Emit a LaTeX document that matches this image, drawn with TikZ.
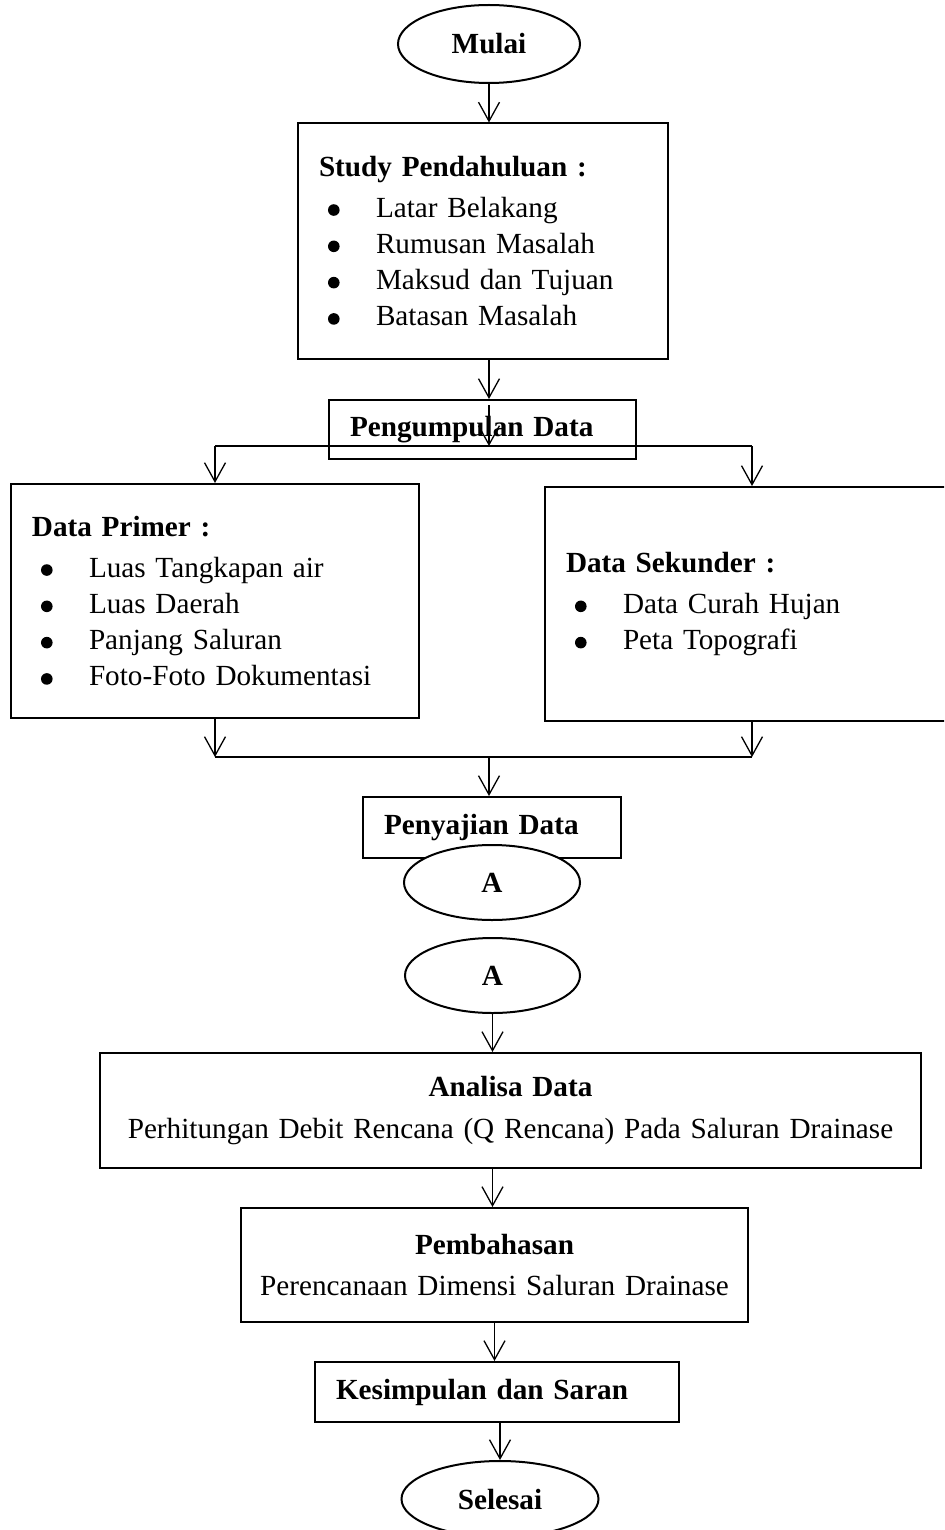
\documentclass[tikz,border=0pt]{standalone}
\usepackage{fontspec}
\setmainfont{Liberation Serif}
\usetikzlibrary{positioning, shapes.geometric, arrows.meta}
\newcommand{\flowfont}{\fontsize{14.6}{18.15}\selectfont}
\newcommand{\itm}{\makebox[28.5pt][l]{\hspace{4.5pt}\tikz[baseline=-3.5pt]\fill (0pt,0pt) circle (2.9pt);}}

\begin{document}
\begin{tikzpicture}[
    x=0.5pt, y=-0.5pt,
    box/.style={draw, line width=1pt, inner xsep=10.5pt, inner ysep=0pt,
                align=#1, font=\flowfont},
    box/.default=left,
    term/.style={draw, ellipse, line width=1pt, inner sep=0pt, fill=white,
                 font=\flowfont\bfseries},
    arrow/.style={-{Straight Barb[length=9.5pt, width=10.5pt]}, line width=0.65pt},
    line/.style={line width=0.65pt},
]
\useasboundingbox (0,0) rectangle (944,1530);
\clip (0,0) rectangle (944,1530);

% Start and study
\node[term, minimum width=91pt, minimum height=39pt] (mulai) at (489,44) {\raisebox{-1.5pt}{Mulai}};

\node[box, text width=164pt, minimum height=117.5pt] (study) at (483,241)
    {\textbf{Study Pendahuluan :}\\[2.35pt]
     \itm Latar Belakang\\ \itm Rumusan Masalah\\
     \itm Maksud dan Tujuan\\ \itm Batasan Masalah};

\node[box, text width=132.5pt, minimum height=29.5pt] (pd) at (482.5,429.5)
    {\textbf{Pengumpulan Data}};

% Data columns
\node[box, text width=183pt, minimum height=117pt] (dp) at (215,601)
    {\textbf{Data Primer :}\\[2.35pt]
     \itm Luas Tangkapan air\\ \itm Luas Daerah\\
     \itm Panjang Saluran\\ \itm Foto-Foto Dokumentasi};
\node[box, text width=186pt, minimum height=117pt] (ds) at (752,604)
    {\textbf{Data Sekunder :}\\[2.35pt]
     \itm Data Curah Hujan\\ \itm Peta Topografi};

\node[box, text width=108pt, minimum height=30.5pt] (pj) at (492,827.5)
    {\textbf{Penyajian Data}};
\node[term, minimum width=88pt, minimum height=37.5pt] (a1) at (492,882.5) {A};

% Connector A onwards
\node[term, minimum width=87.5pt, minimum height=37.5pt] (a2) at (492.5,975.5) {A};

\node[box=center, inner xsep=0pt, text width=410.5pt, minimum height=57.5pt] (an) at (510.5,1110.5)
    {\textbf{Analisa Data}\\[3pt]
     Perhitungan Debit Rencana (Q Rencana) Pada Saluran Drainase};
\node[box=center, inner xsep=0pt, text width=253.5pt, minimum height=57pt] (pb) at (494.5,1265)
    {\textbf{Pembahasan}\\[2pt]
     Perencanaan Dimensi Saluran Drainase};
\node[box, text width=161pt, minimum height=30pt] (ks) at (497,1392)
    {\textbf{Kesimpulan dan Saran}};
\node[term, minimum width=98.5pt, minimum height=38pt] (selesai) at (500,1499) {Selesai};

% Split and merge points
\coordinate (split) at (489,446);
\coordinate (merge) at (489,757);

\draw[arrow] (mulai.south) -- (study.north -| mulai.south);
\draw[arrow] (study.south -| split) -- (pd.north -| split);
\draw[arrow] ([yshift=-3pt]pd.north -| split) -- (split);
\draw[line] (dp.north |- split) -- (ds.north |- split);
\draw[arrow] (dp.north |- split) -- (dp.north);
\draw[arrow] (ds.north |- split) -- (ds.north);

\draw[arrow] (dp.south) -- (dp.south |- merge);
\draw[arrow] (ds.south) -- (ds.south |- merge);
\draw[line] (dp.south |- merge) -- (ds.south |- merge);
\draw[arrow] (merge) -- (pj.north -| merge);

\draw[arrow] (a2.south) -- (an.north -| a2.south);
\draw[arrow] (an.south -| a2) -- (pb.north -| a2);
\draw[arrow] (pb.south) -- (ks.north -| pb.south);
\draw[arrow] (ks.south -| selesai) -- (selesai.north);

\end{tikzpicture}
\end{document}
